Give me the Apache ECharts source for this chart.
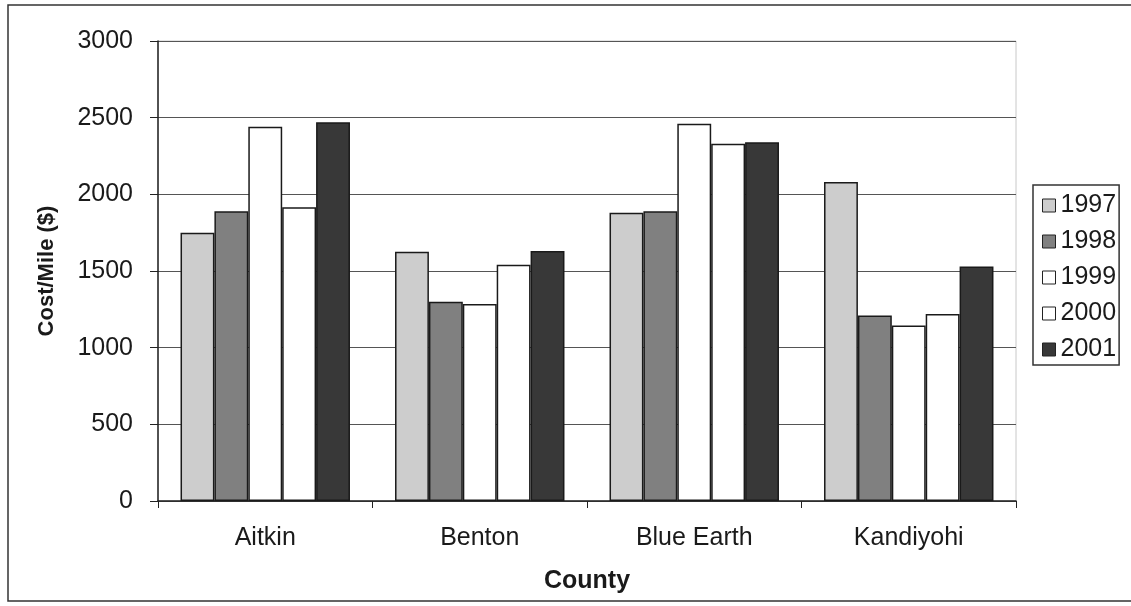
<!DOCTYPE html>
<html>
<head>
<meta charset="utf-8">
<title>Cost per Mile by County</title>
<script src="https://cdn.jsdelivr.net/npm/echarts@6/dist/echarts.min.js"></script>
<style>
  html, body { margin: 0; padding: 0; background: #fff; }
  #chart { width: 1131px; height: 606px; }
</style>
</head>
<body>
<div id="chart"></div>
<script>
// Counties on the category axis
const counties = ['Aitkin', 'Benton', 'Blue Earth', 'Kandiyohi'];

// Cost per mile ($) for each year, one value per county
const years = ['1997', '1998', '1999', '2000', '2001'];
const cost1997 = [1750, 1625, 1880, 2080];
const cost1998 = [1890, 1300, 1890, 1210];
const cost1999 = [2440, 1285, 2460, 1145];
const cost2000 = [1915, 1540, 2330, 1220];
const cost2001 = [2470, 1630, 2340, 1530];

// Value axis ticks
const yMin = 0;
const yMax = 3000;
const yStep = 500;

const seriesValues = [cost1997, cost1998, cost1999, cost2000, cost2001];
const fills = ['#cdcdcd', '#808080', '#ffffff', '#ffffff', '#383838'];

const font = 'Liberation Sans, Arial, sans-serif';

const chart = echarts.init(document.getElementById('chart'), null, { renderer: 'canvas' });

chart.setOption({
  backgroundColor: '#ffffff',
  animation: false,
  textStyle: { fontFamily: font },
  graphic: [
    {
      type: 'rect',
      shape: { x: 8, y: 5, width: 1140, height: 596 },
      style: { fill: 'none', stroke: '#333', lineWidth: 1.5 },
      silent: true
    }
  ],
  grid: {
    left: 158,
    right: 1131 - 1016,
    top: 41,
    bottom: 606 - 501,
    show: true,
    borderColor: '#c8c8c8',
    borderWidth: 1,
    backgroundColor: 'transparent'
  },
  legend: {
    orient: 'vertical',
    left: 1033,
    top: 185,
    padding: [8, 3, 3, 9],
    itemWidth: 13,
    itemHeight: 13,
    itemGap: 11,
    itemTextGap: 19,
    borderColor: '#333',
    borderWidth: 1.5,
    icon: 'rect',
    itemStyle: { borderColor: '#222', borderWidth: 1 },
    textStyle: { fontFamily: font, fontSize: 25, color: '#1a1a1a', lineHeight: 24 },
    data: years
  },
  xAxis: {
    type: 'category',
    data: counties,
    name: 'County',
    nameLocation: 'middle',
    nameGap: 68,
    nameTextStyle: { fontFamily: font, fontSize: 25, fontWeight: 'bold', color: '#1a1a1a' },
    axisLine: { lineStyle: { color: '#222', width: 1.5 } },
    axisTick: { show: true, length: 7, inside: false, lineStyle: { color: '#222', width: 1 } },
    axisLabel: { fontFamily: font, fontSize: 25, color: '#1a1a1a', margin: 25 },
    splitLine: { show: false }
  },
  yAxis: {
    type: 'value',
    min: yMin,
    max: yMax,
    interval: yStep,
    name: 'Cost/Mile ($)',
    nameLocation: 'middle',
    nameGap: 100,
    nameRotate: 90,
    nameTextStyle: { fontFamily: font, fontSize: 22, fontWeight: 'bold', color: '#1a1a1a' },
    axisLine: { show: true, lineStyle: { color: '#222', width: 1.5 } },
    axisTick: { show: true, length: 8, inside: false, lineStyle: { color: '#222', width: 1 } },
    axisLabel: {
      fontFamily: font,
      fontSize: 25,
      color: '#1a1a1a',
      margin: 25,
      formatter: (v) => String(v)
    },
    splitLine: { show: true, lineStyle: { color: '#555', width: 1 } }
  },
  series: years.map((y, i) => ({
    name: y,
    type: 'bar',
    data: seriesValues[i],
    barGap: '0%',
    barCategoryGap: '21%',
    itemStyle: { color: fills[i], borderColor: '#1a1a1a', borderWidth: 1.5 }
  }))
});
</script>
</body>
</html>
